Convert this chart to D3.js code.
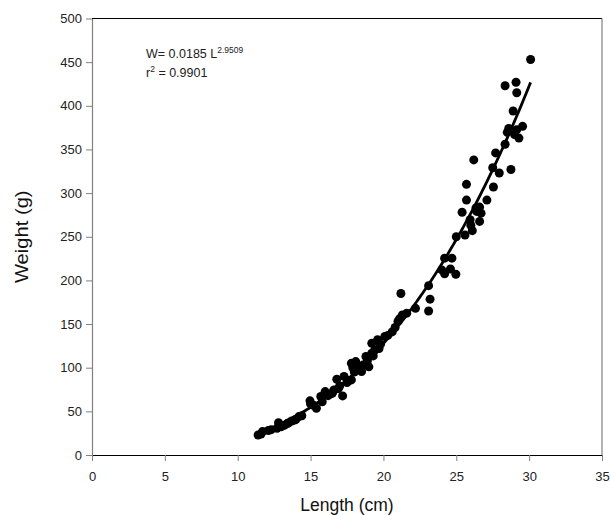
<!DOCTYPE html>
<html>
<head>
<meta charset="utf-8">
<script src="https://cdn.jsdelivr.net/npm/d3@7"></script>
<style>
  body { margin: 0; background: #fff; }
  text { font-family: "Liberation Sans", Arial, sans-serif; }
</style>
</head>
<body>
<div id="chart"></div>
<script>
// Length (cm) and weight (g) of each fish
const lengths = [11.4, 11.6, 11.7, 12.1, 12.3, 12.7, 12.8, 12.9, 13.0, 13.2,
  13.4, 13.5, 13.7, 13.9, 14.0, 14.2, 14.4, 14.96, 15.0, 15.2,
  15.4, 15.7, 15.8, 16.0, 16.2, 16.4, 16.5, 16.6, 16.8, 16.9,
  17.0, 17.2, 17.3, 17.5, 17.6, 17.8, 17.8, 17.9, 18.0, 18.1,
  18.2, 18.4, 18.5, 18.6, 18.8, 18.9, 19.0, 19.2, 19.2, 19.3,
  19.4, 19.6, 19.7, 19.8, 20.1, 20.3, 20.6, 20.8, 21.0, 21.1,
  21.2, 21.3, 21.6, 22.2, 23.1, 23.2, 23.1, 24.0, 24.2, 24.2,
  24.6, 24.7, 24.97, 25.0, 25.4, 25.6, 25.7, 25.7, 25.95, 26.0,
  26.1, 26.2, 26.35, 26.4, 26.6, 26.6, 26.7, 27.1, 27.5, 27.55,
  27.7, 27.95, 28.35, 28.35, 28.5, 28.6, 28.75, 28.9, 29.0, 29.1,
  29.15, 29.15, 29.3, 29.55, 30.1];
const weights = [22.9, 24, 26.8, 28, 29, 30.6, 37, 33, 32.5, 34,
  36, 37, 39, 40, 41, 44, 45, 62, 58.5, 57,
  53.5, 67, 61, 72.6, 68, 70, 71, 74.5, 86.8, 76,
  79, 67.7, 90, 83, 85, 86, 105, 100, 95, 107,
  97.5, 101, 95.6, 103, 112.8, 108, 101, 116.6, 128, 113.5,
  120, 132, 122, 127, 135.7, 137, 141, 146, 153, 156,
  185, 160.5, 162.5, 168, 194, 178.5, 165, 212, 207.6, 225.5,
  213, 225.5, 207, 250, 278, 252, 310, 292, 269.5, 263,
  257, 338, 283, 279, 267.6, 284, 277, 292, 329, 307,
  346, 323, 423, 356, 369.6, 374, 327, 394, 367, 427,
  415, 372.7, 363, 376.5, 453];

// power fit given on the chart: W = a L^b
const fitA = 0.0185;
const fitB = 2.9509;
const fitRange = [11.4, 30.1];

const xTicks = [0, 5, 10, 15, 20, 25, 30, 35];
const yTicks = [0, 50, 100, 150, 200, 250, 300, 350, 400, 450, 500];

const W = 610, H = 515;
const margin = { top: 18.5, right: 8, bottom: 60, left: 92 };
const width = W - margin.left - margin.right,
      height = H - margin.top - margin.bottom;

const svg = d3.select("#chart").append("svg")
    .attr("width", W)
    .attr("height", H);

const g = svg.append("g")
    .attr("transform", `translate(${margin.left},${margin.top})`);

const x = d3.scaleLinear().domain([0, 35]).range([0, width]);
const y = d3.scaleLinear().domain([0, 500]).range([height, 0]);

// frame: top and right
g.append("line").attr("x1", 0).attr("x2", width).attr("y1", 0).attr("y2", 0)
  .attr("stroke", "#000").attr("stroke-width", 1.2);
g.append("line").attr("x1", width).attr("x2", width).attr("y1", 0).attr("y2", height)
  .attr("stroke", "#808080").attr("stroke-width", 1.2);

// Y axis
const yAxis = g.append("g")
  .call(d3.axisLeft(y).tickValues(yTicks).tickSize(6).tickPadding(4).tickSizeOuter(0));
yAxis.select(".domain").attr("stroke", "#808080").attr("stroke-width", 1.2);
yAxis.selectAll(".tick line").attr("stroke", "#808080");
yAxis.selectAll("text").attr("font-size", 13).attr("fill", "#222")
  .attr("font-family", "Liberation Sans, Arial, sans-serif");

// X axis
const xAxis = g.append("g")
  .attr("transform", `translate(0,${height})`)
  .call(d3.axisBottom(x).tickValues(xTicks).tickSize(6).tickPadding(11).tickSizeOuter(0));
xAxis.select(".domain").attr("stroke", "#000").attr("stroke-width", 1.2);
xAxis.selectAll(".tick line").attr("stroke", "#808080");
xAxis.selectAll("text").attr("font-size", 13).attr("fill", "#222")
  .attr("font-family", "Liberation Sans, Arial, sans-serif");

// axis titles
svg.append("text")
  .attr("x", margin.left + width / 2)
  .attr("y", 511)
  .attr("text-anchor", "middle")
  .attr("font-size", 17.5)
  .attr("fill", "#111")
  .text("Length (cm)");
svg.append("text")
  .attr("transform", `translate(28,${margin.top + height / 2}) rotate(-90) scale(1.12,1)`)
  .attr("text-anchor", "middle")
  .attr("font-size", 18)
  .attr("fill", "#111")
  .text("Weight (g)");

// points
const pts = lengths.map((l, i) => ({ l: l, w: weights[i] }));
g.selectAll("circle")
  .data(pts)
  .join("circle")
    .attr("cx", d => x(d.l))
    .attr("cy", d => y(d.w))
    .attr("r", 4.5)
    .attr("fill", "#000");

// fitted curve
const curve = d3.range(fitRange[0], fitRange[1] + 0.01, 0.1)
  .map(l => ({ l: l, w: fitA * Math.pow(l, fitB) }));
g.append("path")
  .datum(curve)
  .attr("fill", "none")
  .attr("stroke", "#000")
  .attr("stroke-width", 2.8)
  .attr("d", d3.line().x(d => x(d.l)).y(d => y(d.w)));

// equation label
const eq = svg.append("text").attr("x", 146).attr("y", 58).attr("font-size", 12.5).attr("fill", "#222");
eq.append("tspan").text("W= 0.0185 L");
eq.append("tspan").attr("font-size", 8.5).attr("dy", -5).text("2.9509");
const r2 = svg.append("text").attr("x", 146).attr("y", 77).attr("font-size", 12.5).attr("fill", "#222");
r2.append("tspan").text("r");
r2.append("tspan").attr("font-size", 8.5).attr("dy", -5).text("2");
r2.append("tspan").attr("dy", 5).text(" = 0.9901");
</script>
</body>
</html>
